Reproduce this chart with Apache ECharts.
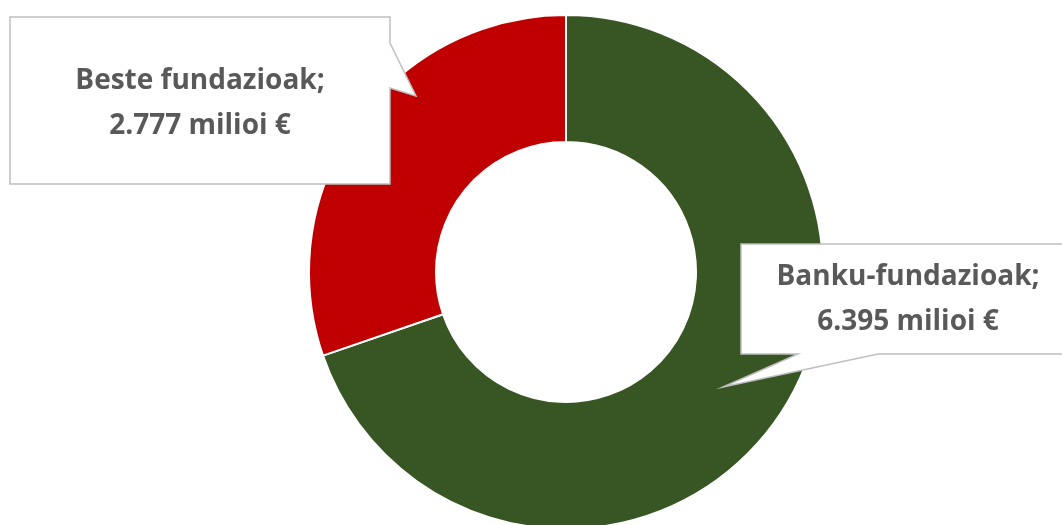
<!DOCTYPE html>
<html>
<head>
<meta charset="utf-8">
<script src="https://cdn.jsdelivr.net/npm/echarts@6/dist/echarts.min.js"></script>
<style>
html,body{margin:0;padding:0;background:#fff;}
#chart{width:1062px;height:525px;}
</style>
</head>
<body>
<div id="chart"></div>
<script>
const categories = ['Banku-fundazioak', 'Beste fundazioak'];
const values = [6395, 2777];
const unit = 'milioi €';
const colors = ['#375623', '#C00000'];

function fmt(v) {
  return String(v).replace(/\B(?=(\d{3})+(?!\d))/g, '.');
}
function labelText(i) {
  return categories[i] + ';\n' + fmt(values[i]) + ' ' + unit;
}

const chart = echarts.init(document.getElementById('chart'));
const font = '"Open Sans", "Noto Sans", sans-serif';
const textStyle = (i, x, y) => ({
  type: 'text',
  x: x, y: y,
  z: 20,
  style: {
    text: labelText(i),
    fill: '#595959',
    font: 'bold 28px ' + font,
    lineHeight: 45,
    align: 'center',
    verticalAlign: 'middle'
  }
});

chart.setOption({
  animation: false,
  series: [{
    type: 'pie',
    center: [566, 272],
    radius: [130, 257],
    startAngle: 90,
    clockwise: true,
    label: { show: false },
    labelLine: { show: false },
    itemStyle: { borderColor: '#ffffff', borderWidth: 2 },
    emphasis: { disabled: true },
    data: categories.map((c, i) => ({ name: c, value: values[i], itemStyle: { color: colors[i] } }))
  }],
  graphic: [
    {
      type: 'polygon', z: 10,
      shape: { points: [[10,17],[390,17],[390,43],[416,96],[390,88],[390,184],[10,184]] },
      style: { fill: '#ffffff', stroke: '#BFBFBF', lineWidth: 1.5 }
    },
    textStyle(1, 200, 104),
    {
      type: 'polygon', z: 10,
      shape: { points: [[741,244],[1075,244],[1075,354],[878,354],[723,387],[798,354],[741,354]] },
      style: { fill: '#ffffff', stroke: '#BFBFBF', lineWidth: 1.5 }
    },
    textStyle(0, 908, 300)
  ]
});
</script>
</body>
</html>
